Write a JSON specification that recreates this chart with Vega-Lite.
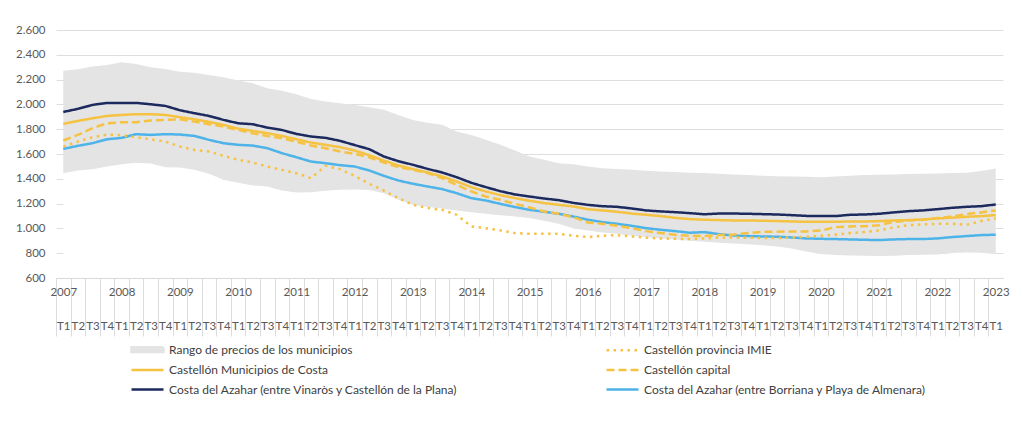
{
  "$schema": "https://vega.github.io/schema/vega-lite/v6.json",
  "width": 947,
  "height": 248,
  "autosize": {"type": "none"},
  "padding": {"left": 56, "top": 30, "right": 21, "bottom": 164},
  "background": "white",
  "config": {
    "view": {"stroke": null},
    "font": "Lato"
  },
  "data": {
    "values": [
      {"periodo": "2007 T1", "min": 1445, "max": 2272, "imie": 1660, "costa": 1843, "capital": 1709, "vinaros": 1939, "borriana": 1641},
      {"periodo": "2007 T2", "min": 1467, "max": 2283, "imie": 1700, "costa": 1867, "capital": 1754, "vinaros": 1964, "borriana": 1666},
      {"periodo": "2007 T3", "min": 1478, "max": 2305, "imie": 1735, "costa": 1888, "capital": 1808, "vinaros": 1996, "borriana": 1687},
      {"periodo": "2007 T4", "min": 1499, "max": 2318, "imie": 1757, "costa": 1907, "capital": 1848, "vinaros": 2012, "borriana": 1719},
      {"periodo": "2008 T1", "min": 1518, "max": 2340, "imie": 1752, "costa": 1915, "capital": 1856, "vinaros": 2012, "borriana": 1730},
      {"periodo": "2008 T2", "min": 1529, "max": 2326, "imie": 1735, "costa": 1921, "capital": 1856, "vinaros": 2012, "borriana": 1760},
      {"periodo": "2008 T3", "min": 1523, "max": 2299, "imie": 1719, "costa": 1921, "capital": 1870, "vinaros": 2001, "borriana": 1754},
      {"periodo": "2008 T4", "min": 1494, "max": 2286, "imie": 1700, "costa": 1915, "capital": 1875, "vinaros": 1988, "borriana": 1760},
      {"periodo": "2009 T1", "min": 1491, "max": 2264, "imie": 1660, "costa": 1897, "capital": 1880, "vinaros": 1953, "borriana": 1757},
      {"periodo": "2009 T2", "min": 1472, "max": 2256, "imie": 1633, "costa": 1880, "capital": 1861, "vinaros": 1929, "borriana": 1746},
      {"periodo": "2009 T3", "min": 1440, "max": 2237, "imie": 1620, "costa": 1859, "capital": 1840, "vinaros": 1907, "borriana": 1714},
      {"periodo": "2009 T4", "min": 1392, "max": 2219, "imie": 1585, "costa": 1835, "capital": 1821, "vinaros": 1875, "borriana": 1687},
      {"periodo": "2010 T1", "min": 1368, "max": 2192, "imie": 1553, "costa": 1805, "capital": 1794, "vinaros": 1848, "borriana": 1674},
      {"periodo": "2010 T2", "min": 1346, "max": 2170, "imie": 1531, "costa": 1786, "capital": 1768, "vinaros": 1840, "borriana": 1668},
      {"periodo": "2010 T3", "min": 1338, "max": 2130, "imie": 1499, "costa": 1768, "capital": 1746, "vinaros": 1813, "borriana": 1647},
      {"periodo": "2010 T4", "min": 1306, "max": 2111, "imie": 1472, "costa": 1746, "capital": 1727, "vinaros": 1794, "borriana": 1607},
      {"periodo": "2011 T1", "min": 1290, "max": 2082, "imie": 1445, "costa": 1719, "capital": 1700, "vinaros": 1762, "borriana": 1574},
      {"periodo": "2011 T2", "min": 1292, "max": 2044, "imie": 1405, "costa": 1692, "capital": 1668, "vinaros": 1741, "borriana": 1539},
      {"periodo": "2011 T3", "min": 1303, "max": 2023, "imie": 1505, "costa": 1674, "capital": 1647, "vinaros": 1730, "borriana": 1526},
      {"periodo": "2011 T4", "min": 1311, "max": 2009, "imie": 1478, "costa": 1655, "capital": 1620, "vinaros": 1706, "borriana": 1510},
      {"periodo": "2012 T1", "min": 1314, "max": 1996, "imie": 1424, "costa": 1628, "capital": 1601, "vinaros": 1672, "borriana": 1499},
      {"periodo": "2012 T2", "min": 1309, "max": 1977, "imie": 1360, "costa": 1590, "capital": 1574, "vinaros": 1639, "borriana": 1467},
      {"periodo": "2012 T3", "min": 1284, "max": 1956, "imie": 1305, "costa": 1547, "capital": 1531, "vinaros": 1580, "borriana": 1424},
      {"periodo": "2012 T4", "min": 1231, "max": 1915, "imie": 1244, "costa": 1507, "capital": 1494, "vinaros": 1542, "borriana": 1386},
      {"periodo": "2013 T1", "min": 1190, "max": 1875, "imie": 1190, "costa": 1478, "capital": 1472, "vinaros": 1513, "borriana": 1360},
      {"periodo": "2013 T2", "min": 1172, "max": 1852, "imie": 1164, "costa": 1451, "capital": 1446, "vinaros": 1480, "borriana": 1338},
      {"periodo": "2013 T3", "min": 1161, "max": 1835, "imie": 1150, "costa": 1419, "capital": 1405, "vinaros": 1451, "borriana": 1317},
      {"periodo": "2013 T4", "min": 1145, "max": 1781, "imie": 1110, "costa": 1378, "capital": 1351, "vinaros": 1413, "borriana": 1284},
      {"periodo": "2014 T1", "min": 1131, "max": 1754, "imie": 1016, "costa": 1333, "capital": 1298, "vinaros": 1368, "borriana": 1244},
      {"periodo": "2014 T2", "min": 1118, "max": 1714, "imie": 1002, "costa": 1298, "capital": 1257, "vinaros": 1333, "borriana": 1225},
      {"periodo": "2014 T3", "min": 1107, "max": 1674, "imie": 984, "costa": 1268, "capital": 1231, "vinaros": 1300, "borriana": 1198},
      {"periodo": "2014 T4", "min": 1096, "max": 1628, "imie": 962, "costa": 1244, "capital": 1198, "vinaros": 1274, "borriana": 1172},
      {"periodo": "2015 T1", "min": 1083, "max": 1580, "imie": 957, "costa": 1223, "capital": 1169, "vinaros": 1257, "borriana": 1150},
      {"periodo": "2015 T2", "min": 1062, "max": 1553, "imie": 957, "costa": 1204, "capital": 1137, "vinaros": 1241, "borriana": 1134},
      {"periodo": "2015 T3", "min": 1037, "max": 1526, "imie": 957, "costa": 1190, "capital": 1118, "vinaros": 1228, "borriana": 1118},
      {"periodo": "2015 T4", "min": 1002, "max": 1518, "imie": 941, "costa": 1177, "capital": 1091, "vinaros": 1206, "borriana": 1096},
      {"periodo": "2016 T1", "min": 984, "max": 1499, "imie": 930, "costa": 1155, "capital": 1048, "vinaros": 1190, "borriana": 1070},
      {"periodo": "2016 T2", "min": 967, "max": 1486, "imie": 941, "costa": 1145, "capital": 1037, "vinaros": 1179, "borriana": 1051},
      {"periodo": "2016 T3", "min": 957, "max": 1480, "imie": 946, "costa": 1134, "capital": 1021, "vinaros": 1174, "borriana": 1037},
      {"periodo": "2016 T4", "min": 941, "max": 1472, "imie": 935, "costa": 1120, "capital": 1002, "vinaros": 1161, "borriana": 1021},
      {"periodo": "2017 T1", "min": 930, "max": 1464, "imie": 925, "costa": 1110, "capital": 978, "vinaros": 1145, "borriana": 1002},
      {"periodo": "2017 T2", "min": 919, "max": 1459, "imie": 919, "costa": 1099, "capital": 962, "vinaros": 1137, "borriana": 989},
      {"periodo": "2017 T3", "min": 911, "max": 1454, "imie": 916, "costa": 1085, "capital": 948, "vinaros": 1131, "borriana": 978},
      {"periodo": "2017 T4", "min": 900, "max": 1448, "imie": 914, "costa": 1075, "capital": 941, "vinaros": 1123, "borriana": 965},
      {"periodo": "2018 T1", "min": 892, "max": 1446, "imie": 919, "costa": 1070, "capital": 938, "vinaros": 1114, "borriana": 970},
      {"periodo": "2018 T2", "min": 884, "max": 1440, "imie": 925, "costa": 1067, "capital": 946, "vinaros": 1120, "borriana": 954},
      {"periodo": "2018 T3", "min": 879, "max": 1435, "imie": 927, "costa": 1064, "capital": 951, "vinaros": 1120, "borriana": 943},
      {"periodo": "2018 T4", "min": 873, "max": 1430, "imie": 925, "costa": 1064, "capital": 962, "vinaros": 1118, "borriana": 938},
      {"periodo": "2019 T1", "min": 865, "max": 1424, "imie": 922, "costa": 1062, "capital": 973, "vinaros": 1115, "borriana": 935},
      {"periodo": "2019 T2", "min": 854, "max": 1421, "imie": 922, "costa": 1059, "capital": 973, "vinaros": 1112, "borriana": 933},
      {"periodo": "2019 T3", "min": 838, "max": 1419, "imie": 927, "costa": 1056, "capital": 975, "vinaros": 1107, "borriana": 927},
      {"periodo": "2019 T4", "min": 814, "max": 1416, "imie": 933, "costa": 1053, "capital": 975, "vinaros": 1101, "borriana": 919},
      {"periodo": "2020 T1", "min": 793, "max": 1413, "imie": 941, "costa": 1053, "capital": 983, "vinaros": 1099, "borriana": 916},
      {"periodo": "2020 T2", "min": 785, "max": 1419, "imie": 949, "costa": 1053, "capital": 1010, "vinaros": 1099, "borriana": 914},
      {"periodo": "2020 T3", "min": 782, "max": 1424, "imie": 962, "costa": 1056, "capital": 1016, "vinaros": 1110, "borriana": 911},
      {"periodo": "2020 T4", "min": 780, "max": 1430, "imie": 970, "costa": 1056, "capital": 1018, "vinaros": 1112, "borriana": 908},
      {"periodo": "2021 T1", "min": 777, "max": 1432, "imie": 984, "costa": 1059, "capital": 1026, "vinaros": 1118, "borriana": 906},
      {"periodo": "2021 T2", "min": 780, "max": 1435, "imie": 1008, "costa": 1064, "capital": 1053, "vinaros": 1129, "borriana": 911},
      {"periodo": "2021 T3", "min": 785, "max": 1438, "imie": 1026, "costa": 1067, "capital": 1064, "vinaros": 1139, "borriana": 914},
      {"periodo": "2021 T4", "min": 788, "max": 1440, "imie": 1032, "costa": 1072, "capital": 1070, "vinaros": 1145, "borriana": 914},
      {"periodo": "2022 T1", "min": 790, "max": 1443, "imie": 1037, "costa": 1080, "capital": 1083, "vinaros": 1155, "borriana": 919},
      {"periodo": "2022 T2", "min": 801, "max": 1446, "imie": 1037, "costa": 1086, "capital": 1096, "vinaros": 1166, "borriana": 930},
      {"periodo": "2022 T3", "min": 806, "max": 1448, "imie": 1029, "costa": 1094, "capital": 1115, "vinaros": 1174, "borriana": 938},
      {"periodo": "2022 T4", "min": 803, "max": 1462, "imie": 1059, "costa": 1099, "capital": 1129, "vinaros": 1179, "borriana": 946},
      {"periodo": "2023 T1", "min": 796, "max": 1483, "imie": 1080, "costa": 1107, "capital": 1145, "vinaros": 1193, "borriana": 949}
    ]
  },
  "layer": [
    {
      "mark": {"type": "area", "color": "white", "opacity": 1, "clip": true},
      "encoding": {
        "x": {
          "field": "periodo",
          "type": "ordinal",
          "scale": {"type": "point", "padding": 0.5},
          "title": null,
          "axis": {
            "orient": "bottom",
            "domain": true,
            "domainColor": "#d9d9d9",
            "ticks": true,
            "tickSize": 58,
            "tickColor": "#dcdcdc",
            "tickWidth": 1,
            "tickOffset": -7.285,
            "labelOffset": 7.285,
            "labelAngle": 0,
            "labelAlign": "center",
            "labelBaseline": "top",
            "labelPadding": -50,
            "labelOverlap": false,
            "labelLineHeight": 34,
            "labelFontSize": 11.5,
            "labelColor": "#595959",
            "labelExpr": "slice(datum.value, 5) == 'T1' ? [slice(datum.value, 0, 4), 'T1'] : ['', slice(datum.value, 5)]"
          }
        },
        "y": {
          "field": "min",
          "type": "quantitative",
          "title": null,
          "scale": {"domain": [600, 2600], "nice": false, "zero": false},
          "axis": {
            "values": [600, 800, 1000, 1200, 1400, 1600, 1800, 2000, 2200, 2400, 2600],
            "tickCount": 11,
            "labelOverlap": false,
            "domain": false,
            "ticks": false,
            "grid": true,
            "gridColor": "#dedede",
            "gridWidth": 1,
            "labelPadding": 11,
            "labelFontSize": 11.5,
            "labelColor": "#595959",
            "labelExpr": "replace(format(datum.value, ','), ',', '.')"
          }
        }
      }
    },
    {
      "mark": {"type": "area", "color": "#e4e4e4", "opacity": 1},
      "encoding": {
        "x": {"field": "periodo", "type": "ordinal", "title": null},
        "y": {"field": "min", "type": "quantitative", "title": null},
        "y2": {"field": "max"}
      }
    },
    {
      "transform": [
        {"fold": ["borriana", "imie", "capital", "costa", "vinaros"], "as": ["serie", "valor"]}
      ],
      "mark": {"type": "line", "strokeWidth": 2.5},
      "encoding": {
        "x": {"field": "periodo", "type": "ordinal", "title": null},
        "y": {"field": "valor", "type": "quantitative", "title": null},
        "color": {
          "field": "serie",
          "type": "nominal",
          "scale": {
            "domain": ["rango", "imie", "costa", "capital", "vinaros", "borriana"],
            "range": ["#e4e4e4", "#f5c242", "#f5c242", "#f5c242", "#1c2a5e", "#4db3e8"]
          },
          "legend": {
            "title": null,
            "orient": "none",
            "legendX": 82,
            "legendY": 310,
            "direction": "horizontal",
            "columns": 2,
            "columnPadding": 142,
            "rowPadding": 3.5,
            "padding": 0,
            "symbolType": "M-2,0L2,0",
            "symbolSize": 256,
            "symbolStrokeWidth": 2.5,
            "labelOffset": 12,
            "labelFontSize": 12,
            "labelColor": "#404040",
            "labelLimit": 500,
            "labelExpr": "datum.value == 'rango' ? 'Rango de precios de los municipios' : datum.value == 'imie' ? 'Castellón provincia IMIE' : datum.value == 'costa' ? 'Castellón Municipios de Costa' : datum.value == 'capital' ? 'Castellón capital' : datum.value == 'vinaros' ? 'Costa del Azahar (entre Vinaròs y Castellón de la Plana)' : 'Costa del Azahar (entre Borriana y Playa de Almenara)'",
            "encode": {
              "symbols": {
                "update": {
                  "shape": {"signal": "datum.value == 'rango' ? 'M-2,-0.3L2,-0.3L2,0.3L-2,0.3Z' : 'M-2,0L2,0'"},
                  "fill": {"signal": "datum.value == 'rango' ? '#e4e4e4' : 'transparent'"}
                }
              }
            }
          }
        },
        "strokeDash": {
          "field": "serie",
          "type": "nominal",
          "scale": {
            "domain": ["rango", "imie", "costa", "capital", "vinaros", "borriana"],
            "range": [[1, 0], [2.5, 4.5], [1, 0], [8, 4], [1, 0], [1, 0]]
          },
          "legend": null
        }
      }
    }
  ]
}
